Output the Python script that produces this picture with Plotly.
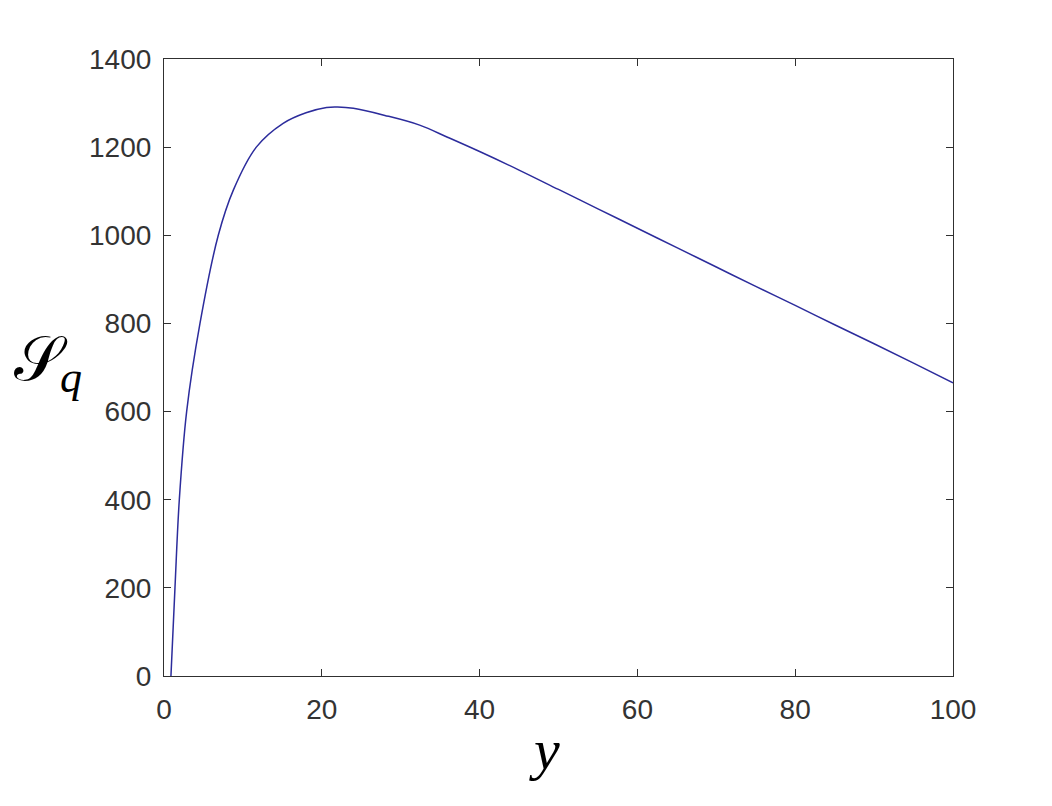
import plotly.graph_objects as go

# values
y_vals = [0.88, 1.39, 1.94, 2.87, 4.56, 6.88, 8.8, 11.7, 15.1, 18.0,
          20.6, 22.0, 24.0, 28.0, 32.4, 36.0, 40.0, 45.0, 50.0, 55.0, 60.0,
          65.0, 70.0, 75.0, 80.0, 85.0, 90.0, 95.0, 100.0]
sq_vals = [0, 200, 400, 600, 800, 1000, 1103, 1200, 1254, 1278,
           1290, 1291, 1288, 1272, 1250, 1222, 1190, 1148, 1104, 1060, 1016,
           972, 928, 884, 841, 797, 754, 710, 665]

x_ticks = [0, 20, 40, 60, 80, 100]
y_ticks = [0, 200, 400, 600, 800, 1000, 1200, 1400]

axis_color = '#303030'

fig = go.Figure()
fig.add_trace(go.Scatter(x=y_vals, y=sq_vals, mode='lines',
                         line=dict(color='#2c2c9c', width=1.5, shape='spline'),
                         showlegend=False))

axis_common = dict(showgrid=False, zeroline=False, showline=True,
                   linecolor=axis_color, linewidth=1.2, mirror='allticks',
                   ticks='inside', ticklen=7, tickwidth=1.2, tickcolor=axis_color,
                   tickfont=dict(family='Liberation Sans, Arial', size=28,
                                 color='#333333'))

fig.update_xaxes(range=[0, 100], tickvals=x_ticks, ticklabelstandoff=8,
                 **axis_common)
fig.update_yaxes(range=[0, 1400], tickvals=y_ticks, ticklabelstandoff=6,
                 **axis_common)

# axis titles as annotations (math-style letters)
fig.add_annotation(text='<i>y</i>', xref='paper', yref='paper',
                   x=0.482, y=-0.064, xanchor='center', yanchor='top',
                   showarrow=False,
                   font=dict(family='Liberation Serif, DejaVu Serif', size=58,
                             color='black'))
fig.add_annotation(text='\U0001D4AE', xref='paper', yref='paper',
                   x=-0.156, y=0.515, xanchor='center', yanchor='middle',
                   showarrow=False,
                   font=dict(family='DejaVu Serif, DejaVu Sans, Liberation Serif', size=62,
                             color='black'))
fig.add_annotation(text='<i>q</i>', xref='paper', yref='paper',
                   x=-0.118, y=0.484, xanchor='center', yanchor='middle',
                   showarrow=False,
                   font=dict(family='Liberation Serif, DejaVu Serif', size=44,
                             color='black'))

# page has an 8px body margin, so the figure is shrunk to fit the window
fig.update_layout(width=1036, height=790,
                  margin=dict(l=156, r=91, t=51, b=122),
                  paper_bgcolor='white', plot_bgcolor='white')

fig.write_html('out.html')
